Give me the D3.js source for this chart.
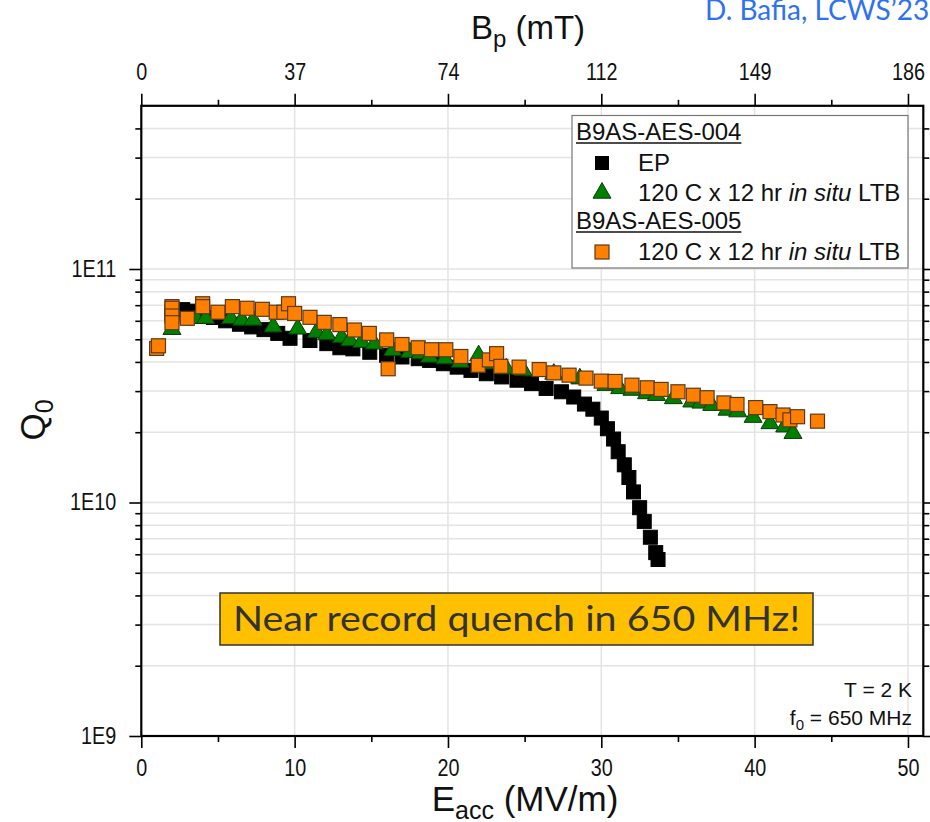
<!DOCTYPE html>
<html>
<head>
<meta charset="utf-8">
<script src="https://cdn.jsdelivr.net/npm/d3@7"></script>
<style>
  body { margin: 0; background: #fff; }
  svg { display: block; font-family: "Liberation Sans", Arial, sans-serif; }
</style>
</head>
<body>
<script>
// EP, B9AS-AES-004
var epE = [2.0, 2.7, 3.3, 4.0, 4.7, 5.5, 6.4, 7.2, 8.0, 8.9, 9.7, 11.0, 12.1, 12.95, 13.8, 14.9, 16.0, 17.0, 18.06, 18.8,
  19.7, 20.6, 21.5, 22.5, 23.5, 24.5, 25.45, 26.4, 27.4, 28.2, 28.9, 29.45, 30.0, 30.4, 30.8, 31.1, 31.5, 31.8,
  32.1, 32.5, 32.8, 33.2, 33.55, 33.7];
var epQ = [6.5e10, 6.7e10, 6.6e10, 6.4e10, 6.2e10, 6.0e10, 5.8e10, 5.65e10, 5.5e10, 5.3e10, 5.05e10, 4.94e10, 4.79e10, 4.6e10, 4.55e10, 4.4e10, 4.27e10, 4.2e10, 4.13e10, 4.06e10,
  3.93e10, 3.8e10, 3.68e10, 3.56e10, 3.45e10, 3.34e10, 3.23e10, 3.08e10, 2.98e10, 2.83e10, 2.64e10, 2.51e10, 2.30e10, 2.07e10, 1.87e10, 1.65e10, 1.45e10, 1.28e10,
  1.11e10, 9.5e9, 8.3e9, 7.1e9, 6.1e9, 5.7e9];

// 120 C x 12 hr in situ LTB, B9AS-AES-004
var ltb4E = [2.0, 3.6, 4.2, 5.83, 6.55, 7.3, 8.6, 10.2, 11.43, 12.1, 13.06, 13.6, 14.37, 15.2, 16.4, 17.5, 18.2, 18.8, 19.8, 20.8,
  22.0, 22.85, 23.8, 24.9, 26.9, 28.6, 30.3, 31.2, 32.0, 32.95, 33.6, 34.7, 35.9, 36.5, 37.2, 38.2, 38.9, 39.9, 41.0, 41.96, 42.5];
var ltb4Q = [5.52e10, 6.15e10, 6.15e10, 6.15e10, 6.05e10, 6.05e10, 5.66e10, 5.54e10, 5.36e10, 5.24e10, 5.1e10, 4.94e10, 4.86e10, 4.78e10, 4.48e10, 4.4e10, 4.34e10, 4.2e10, 4.13e10, 3.99e10,
  4.26e10, 3.93e10, 3.74e10, 3.68e10, 3.55e10, 3.39e10, 3.18e10, 3.08e10, 3.03e10, 2.93e10, 2.88e10, 2.79e10, 2.7e10, 2.67e10, 2.61e10, 2.49e10, 2.45e10, 2.32e10, 2.18e10, 2.11e10, 1.98e10];

// 120 C x 12 hr in situ LTB, B9AS-AES-005
var ltb5E = [1.0, 1.12, 2.0, 2.0, 2.0, 2.0, 3.0, 4.0, 4.0, 5.0, 5.94, 6.9, 7.9, 8.8, 9.3, 9.6, 10.0, 11.0, 11.93, 12.95,
  13.9, 14.87, 16.0, 16.1, 17.0, 18.06, 18.93, 19.86, 20.84, 21.97, 22.7, 23.17, 23.45, 24.64, 25.95, 26.9, 27.9, 29.0, 30.0, 30.9,
  32.0, 33.0, 33.9, 35.0, 36.0, 36.9, 38.0, 38.85, 40.07, 41.0, 41.85, 42.3, 42.8, 44.1];
var ltb5Q = [4.57e10, 4.69e10, 6.9e10, 6.79e10, 6.29e10, 5.89e10, 6.15e10, 7.1e10, 6.9e10, 6.53e10, 6.9e10, 6.79e10, 6.72e10, 6.53e10, 6.53e10, 7.1e10, 6.45e10, 6.21e10, 5.91e10, 5.78e10,
  5.48e10, 5.3e10, 4.97e10, 3.74e10, 4.75e10, 4.6e10, 4.51e10, 4.51e10, 4.22e10, 3.87e10, 4.08e10, 4.34e10, 3.83e10, 3.8e10, 3.71e10, 3.59e10, 3.51e10, 3.41e10, 3.31e10, 3.3e10,
  3.18e10, 3.1e10, 3.05e10, 2.98e10, 2.88e10, 2.81e10, 2.67e10, 2.63e10, 2.55e10, 2.45e10, 2.37e10, 2.26e10, 2.33e10, 2.23e10];

var xTicks = [0, 10, 20, 30, 40, 50];
var xMinorTicks = [5, 15, 25, 35, 45];
var bpTickLabels = ["0", "37", "74", "112", "149", "186"];
var yTicks = [1e9, 1e10, 1e11];
var yTickLabels = ["1E9", "1E10", "1E11"];
var yMinorTicks = [2e9, 3e9, 4e9, 5e9, 6e9, 7e9, 8e9, 9e9, 2e10, 3e10, 4e10, 5e10, 6e10, 7e10, 8e10, 9e10, 2e11, 3e11, 4e11];

var margin = { top: 105.8, left: 141.3 },
  width = 782,
  height = 630.2;

var svg = d3.select("body").append("svg")
  .attr("width", 930)
  .attr("height", 822);

var g = svg.append("g")
  .attr("transform", "translate(" + margin.left + "," + margin.top + ")");

var x = d3.scaleLinear().domain([0, 51]).range([0, width]);
var y = d3.scaleLog().domain([1e9, 5e11]).range([height, 0]);

// grid
g.selectAll(".hgrid")
  .data(yTicks.concat(yMinorTicks))
  .enter().append("line")
  .attr("x1", 0).attr("x2", width)
  .attr("y1", function (d) { return y(d); })
  .attr("y2", function (d) { return y(d); })
  .style("stroke", "#e3e3e3").style("stroke-width", 1.5);

g.selectAll(".vgrid")
  .data(xTicks.slice(1))
  .enter().append("line")
  .attr("y1", 0).attr("y2", height)
  .attr("x1", function (d) { return x(d); })
  .attr("x2", function (d) { return x(d); })
  .style("stroke", "#e3e3e3").style("stroke-width", 1.5);

// axes (labels in the original are a bit narrow, so squeeze them horizontally)
var sx = 0.86;
function styleAxis(sel) {
  sel.select(".domain").remove();
  sel.selectAll("line").style("stroke", "#000").style("stroke-width", 1.6);
  sel.selectAll("text").style("font-size", "23px").style("fill", "#111")
    .style("font-family", "'Liberation Sans', Arial, sans-serif")
    .each(function () {
      var t = d3.select(this);
      var xx = +t.attr("x") || 0;
      t.attr("x", xx / sx).attr("transform", "scale(" + sx + ",1)");
    });
}

g.append("g").attr("transform", "translate(0," + height + ")")
  .call(d3.axisBottom(x).tickValues(xTicks).tickSize(12).tickPadding(12).tickFormat(d3.format("d")))
  .call(styleAxis);
g.append("g").attr("transform", "translate(0," + height + ")")
  .call(d3.axisBottom(x).tickValues(xMinorTicks).tickSize(6).tickFormat(""))
  .call(styleAxis);

g.append("g")
  .call(d3.axisTop(x).tickValues(xTicks).tickSize(12).tickPadding(14)
    .tickFormat(function (d, i) { return bpTickLabels[i]; }))
  .call(styleAxis);
g.append("g")
  .call(d3.axisTop(x).tickValues(xMinorTicks).tickSize(6).tickFormat(""))
  .call(styleAxis);

g.append("g")
  .call(d3.axisLeft(y).tickValues(yTicks).tickSize(12).tickPadding(13)
    .tickFormat(function (d, i) { return yTickLabels[i]; }))
  .call(styleAxis);
g.append("g")
  .call(d3.axisLeft(y).tickValues(yMinorTicks).tickSize(6).tickFormat(""))
  .call(styleAxis);

g.append("g").attr("transform", "translate(" + width + ",0)")
  .call(d3.axisRight(y).tickValues(yTicks).tickSize(12).tickFormat(""))
  .call(styleAxis);
g.append("g").attr("transform", "translate(" + width + ",0)")
  .call(d3.axisRight(y).tickValues(yMinorTicks).tickSize(6).tickFormat(""))
  .call(styleAxis);

g.append("rect")
  .attr("width", width).attr("height", height)
  .style("fill", "none").style("stroke", "#000").style("stroke-width", 2.2);

// data
var ep = epE.map(function (e, i) { return { e: e, q: epQ[i] }; });
var ltb4 = ltb4E.map(function (e, i) { return { e: e, q: ltb4Q[i] }; });
var ltb5 = ltb5E.map(function (e, i) { return { e: e, q: ltb5Q[i] }; });

g.selectAll(".ep")
  .data(ep)
  .enter().append("rect")
  .attr("class", "ep")
  .attr("x", function (d) { return x(d.e) - 7; })
  .attr("y", function (d) { return y(d.q) - 7; })
  .attr("width", 14).attr("height", 14)
  .style("fill", "#000").style("stroke", "#000").style("stroke-width", 1);

var tri = d3.symbol().type(d3.symbolTriangle).size(140);

g.selectAll(".ltb4")
  .data(ltb4)
  .enter().append("path")
  .attr("class", "ltb4")
  .attr("d", tri)
  .attr("transform", function (d) { return "translate(" + x(d.e) + "," + y(d.q) + ")"; })
  .style("fill", "#008000").style("stroke", "#0b3b0b").style("stroke-width", 1);

g.selectAll(".ltb5")
  .data(ltb5)
  .enter().append("rect")
  .attr("class", "ltb5")
  .attr("x", function (d) { return x(d.e) - 7; })
  .attr("y", function (d) { return y(d.q) - 7; })
  .attr("width", 14).attr("height", 14)
  .style("fill", "#ff8000").style("stroke", "#5c3a18").style("stroke-width", 1.2);

// legend
var leg = svg.append("g");
leg.append("rect")
  .attr("x", 572).attr("y", 115.5).attr("width", 336).attr("height", 152.5)
  .style("fill", "#fff").style("stroke", "#777").style("stroke-width", 1.2);

function legendHeader(txt, yy) {
  var t = leg.append("text").attr("x", 576).attr("y", yy)
    .style("font-size", "24px").style("fill", "#111").text(txt);
  var w = t.node().getComputedTextLength();
  leg.append("line").attr("x1", 576).attr("x2", 576 + w)
    .attr("y1", yy + 3).attr("y2", yy + 3)
    .style("stroke", "#111").style("stroke-width", 1.5);
}
function legendLabel(yy, plain) {
  var t = leg.append("text").attr("x", 638).attr("y", yy)
    .style("font-size", "24px").style("fill", "#111");
  if (plain) { t.text(plain); return; }
  t.append("tspan").text("120 C x 12 hr ");
  t.append("tspan").style("font-style", "italic").text("in situ");
  t.append("tspan").text(" LTB");
}

legendHeader("B9AS-AES-004", 140);
leg.append("rect").attr("x", 595).attr("y", 156).attr("width", 14).attr("height", 14).style("fill", "#000");
legendLabel(171, "EP");
leg.append("path").attr("d", d3.symbol().type(d3.symbolTriangle).size(140))
  .attr("transform", "translate(602,193)")
  .style("fill", "#008000").style("stroke", "#0b3b0b");
legendLabel(201);
legendHeader("B9AS-AES-005", 229);
leg.append("rect").attr("x", 595).attr("y", 245).attr("width", 14).attr("height", 14)
  .style("fill", "#ff8000").style("stroke", "#5c3a18").style("stroke-width", 1.2);
legendLabel(260);

// axis titles
var bt = svg.append("text").attr("x", 525).attr("y", 811).attr("text-anchor", "middle")
  .style("font-size", "35px").style("fill", "#111");
bt.append("tspan").text("E");
bt.append("tspan").attr("dy", 8).style("font-size", "25px").text("acc");
bt.append("tspan").attr("dy", -8).text(" (MV/m)");

var tt = svg.append("text").attr("x", 528).attr("y", 39).attr("text-anchor", "middle")
  .style("font-size", "33px").style("fill", "#111");
tt.append("tspan").text("B");
tt.append("tspan").attr("dy", 8).style("font-size", "24px").text("p");
tt.append("tspan").attr("dy", -8).text(" (mT)");

var yt = svg.append("text").attr("transform", "translate(45,420) rotate(-90)").attr("text-anchor", "middle")
  .style("font-size", "35px").style("fill", "#111");
yt.append("tspan").text("Q");
yt.append("tspan").attr("dy", 8).style("font-size", "25px").text("0");

// annotations
svg.append("rect").attr("x", 220).attr("y", 593).attr("width", 593).attr("height", 52)
  .style("fill", "#ffc000").style("stroke", "#333").style("stroke-width", 1.5);
svg.append("text").attr("x", 233).attr("y", 631)
  .attr("textLength", 567).attr("lengthAdjust", "spacingAndGlyphs")
  .style("font-family", "Lato, 'Open Sans', sans-serif").style("font-size", "34px").style("fill", "#333")
  .text("Near record quench in 650 MHz!");

svg.append("text").attr("x", 912).attr("y", 697).attr("text-anchor", "end")
  .style("font-size", "21px").style("fill", "#111").text("T = 2 K");
var ft = svg.append("text").attr("x", 912).attr("y", 725).attr("text-anchor", "end")
  .style("font-size", "21px").style("fill", "#111");
ft.append("tspan").text("f");
ft.append("tspan").attr("dy", 5).style("font-size", "15px").text("0");
ft.append("tspan").attr("dy", -5).text(" = 650 MHz");

svg.append("text").attr("x", 705).attr("y", 20)
  .style("font-family", "Lato, 'Open Sans', sans-serif").style("font-size", "28px").style("fill", "#2f72f0")
  .text("D. Bafia, LCWS\u201923");
</script>
</body>
</html>
